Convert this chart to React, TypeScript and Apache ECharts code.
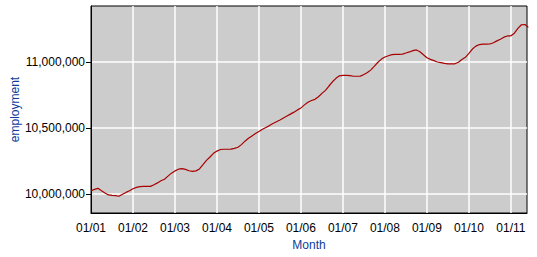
import React, { useEffect, useRef } from "react";
import * as echarts from "echarts";

// Monthly employment, Jan 2001 (index 0) to Jun 2011 (index 125)
const employment: number[] = [
  10025000, 10035000, 10043000, 10025000, 10008000, 9993000, 9990000, 9988000, 9983000, 9998000, 10012000, 10025000,
  10040000, 10050000, 10056000, 10058000, 10058000, 10058000, 10070000, 10084000, 10100000, 10112000, 10135000, 10158000,
  10175000, 10188000, 10192000, 10186000, 10176000, 10172000, 10175000, 10190000, 10222000, 10255000, 10280000, 10308000,
  10325000, 10337000, 10339000, 10339000, 10340000, 10346000, 10354000, 10374000, 10400000, 10422000, 10440000, 10458000,
  10474000, 10490000, 10504000, 10518000, 10534000, 10547000, 10560000, 10575000, 10590000, 10605000, 10620000, 10637000,
  10652000, 10675000, 10695000, 10708000, 10717000, 10737000, 10762000, 10785000, 10818000, 10850000, 10876000, 10895000,
  10899000, 10899000, 10896000, 10892000, 10892000, 10893000, 10905000, 10920000, 10940000, 10968000, 10998000, 11022000,
  11038000, 11047000, 11056000, 11058000, 11058000, 11060000, 11068000, 11076000, 11086000, 11091000, 11078000, 11055000,
  11032000, 11020000, 11010000, 11000000, 10995000, 10990000, 10986000, 10985000, 10986000, 10998000, 11018000, 11035000,
  11065000, 11098000, 11120000, 11132000, 11135000, 11135000, 11136000, 11146000, 11160000, 11172000, 11188000, 11197000,
  11198000, 11218000, 11255000, 11282000, 11284000, 11262000,
];

const monthIndex: number[] = employment.map((_, i) => i);
const xTickYears: string[] = ["01", "02", "03", "04", "05", "06", "07", "08", "09", "10", "11"];

export default function App() {
  const ref = useRef<HTMLDivElement>(null);
  useEffect(() => {
    if (!ref.current) return;
    const chart = echarts.init(ref.current, undefined, { renderer: "svg" });
    const font = "'Liberation Sans', Arial, sans-serif";
    chart.setOption({
      animation: false,
      backgroundColor: "#ffffff",
      grid: {
        left: 91,
        top: 6,
        right: 10,
        bottom: 44,
        containLabel: false,
        outerBoundsMode: "none",
        show: true,
        backgroundColor: "#cccccc",
        borderColor: "#000000",
        borderWidth: 1,
      },
      xAxis: {
        type: "value",
        min: 0,
        max: 124.6,
        interval: 12,
        name: "Month",
        nameLocation: "middle",
        nameGap: 26,
        nameMoveOverlap: false,
        nameTextStyle: { color: "#0f3c9c", fontSize: 12, fontFamily: font },
        axisLine: { show: true, lineStyle: { color: "#000000", width: 1 } },
        axisTick: { show: false },
        axisLabel: {
          color: "#000000",
          fontSize: 12,
          fontFamily: font,
          margin: 9,
          showMaxLabel: false,
          formatter: (v: number) => {
            const i = Math.round(v / 12);
            return xTickYears[i] !== undefined ? "01/" + xTickYears[i] : "";
          },
        },
        splitLine: {
          show: true,
          showMinLine: false,
          showMaxLine: false,
          lineStyle: { color: "#ffffff", width: 1.5 },
        },
      },
      yAxis: {
        type: "value",
        min: 9856000,
        max: 11424000,
        splitNumber: 3,
        name: "employment",
        nameLocation: "middle",
        nameGap: 70,
        nameMoveOverlap: false,
        nameTextStyle: { color: "#0f3c9c", fontSize: 12, fontFamily: font },
        axisLine: { show: true, lineStyle: { color: "#000000", width: 1 } },
        axisTick: { show: true, length: 5, lineStyle: { color: "#000000" } },
        axisLabel: {
          color: "#000000",
          fontSize: 12,
          fontFamily: font,
          margin: 6,
          showMinLabel: false,
          showMaxLabel: false,
          formatter: (v: number) => v.toLocaleString("en-US"),
        },
        splitLine: {
          show: true,
          showMinLine: false,
          showMaxLine: false,
          lineStyle: { color: "#ffffff", width: 1.5 },
        },
      },
      series: [
        {
          type: "line",
          data: monthIndex.map((m) => [m, employment[m]]),
          showSymbol: false,
          smooth: false,
          clip: true,
          lineStyle: { color: "#a80000", width: 1.2 },
        },
      ],
    });
    return () => chart.dispose();
  }, []);
  return (
    <div
      ref={ref}
      style={{ position: "fixed", left: 0, top: 0, width: 537, height: 257 }}
    />
  );
}
